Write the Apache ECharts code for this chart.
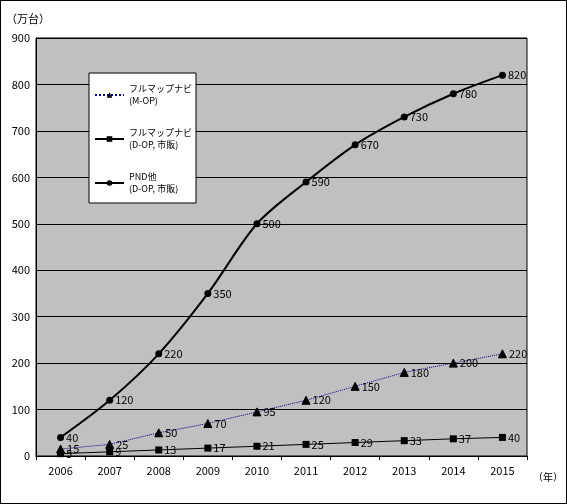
<!DOCTYPE html>
<html>
<head>
<meta charset="utf-8">
<script src="https://cdn.jsdelivr.net/npm/echarts@6/dist/echarts.min.js"></script>
<style>
    html, body {margin: 0; padding: 0; background: #fff;}
    #chart {width: 567px; height: 504px; box-sizing: border-box; border: 1px solid #000;}
</style>
</head>
<body>
<div id="chart"></div>
<script>
// data
const years = ['2006', '2007', '2008', '2009', '2010', '2011', '2012', '2013', '2014', '2015'];
const mOpValues = [15, 25, 50, 70, 95, 120, 150, 180, 200, 220];
const dOpValues = [5, 9, 13, 17, 21, 25, 29, 33, 37, 40];
const pndValues = [40, 120, 220, 350, 500, 590, 670, 730, 780, 820];
const seriesNames = ['フルマップナビ\n(M-OP)', 'フルマップナビ\n(D-OP, 市販)', 'PND他\n(D-OP, 市販)'];

const font = '"Noto Sans CJK JP", "Liberation Sans", sans-serif';
const label = {show: true, position: 'right', distance: 2, color: '#000', fontSize: 11, fontFamily: font};

const chart = echarts.init(document.getElementById('chart'));
chart.setOption({
    animation: false,
    backgroundColor: '#fff',
    textStyle: {fontFamily: font},
    grid: {left: 35, right: 20, top: 37, bottom: 47, show: true, backgroundColor: '#c0c0c0', borderColor: '#000', borderWidth: 1},
    legend: {
        orient: 'vertical',
        left: 88, top: 72,
        padding: [10, 4, 8, 5],
        itemGap: 20,
        itemWidth: 29, itemHeight: 7,
        backgroundColor: '#fff',
        borderColor: '#000', borderWidth: 1,
        textStyle: {fontSize: 9, color: '#000', lineHeight: 12, fontFamily: font},
        data: seriesNames
    },
    xAxis: {
        type: 'category',
        data: years,
        boundaryGap: true,
        name: '（年）',
        nameLocation: 'end',
        nameGap: 6,
        nameTextStyle: {fontSize: 10, color: '#000', verticalAlign: 'top', padding: [16, 0, 0, 0]},
        axisLine: {lineStyle: {color: '#000'}},
        axisTick: {show: true, inside: false, length: 4, lineStyle: {color: '#000'}},
        axisLabel: {color: '#000', fontSize: 11, margin: 9}
    },
    yAxis: {
        type: 'value',
        min: 0, max: 900, interval: 100,
        name: '（万台）',
        nameLocation: 'end',
        nameGap: 14,
        nameTextStyle: {fontSize: 11, color: '#000', align: 'left', padding: [0, 0, 0, -30]},
        axisLine: {show: true, lineStyle: {color: '#000'}},
        axisTick: {show: false},
        axisLabel: {color: '#000', fontSize: 11, margin: 6},
        splitLine: {lineStyle: {color: '#000', width: 1}}
    },
    series: [
        {
            name: seriesNames[0], type: 'line', data: mOpValues,
            symbol: 'triangle', symbolSize: 8,
            lineStyle: {color: '#000080', width: 1, type: 'dotted'},
            itemStyle: {color: '#000', borderColor: '#000'},
            label: label
        },
        {
            name: seriesNames[1], type: 'line', data: dOpValues,
            symbol: 'rect', symbolSize: 7,
            lineStyle: {color: '#000', width: 1},
            itemStyle: {color: '#000'},
            label: label
        },
        {
            name: seriesNames[2], type: 'line', data: pndValues,
            symbol: 'circle', symbolSize: 7, smooth: 0.3,
            lineStyle: {color: '#000', width: 2},
            itemStyle: {color: '#000'},
            label: label
        }
    ]
});
</script>
</body>
</html>
